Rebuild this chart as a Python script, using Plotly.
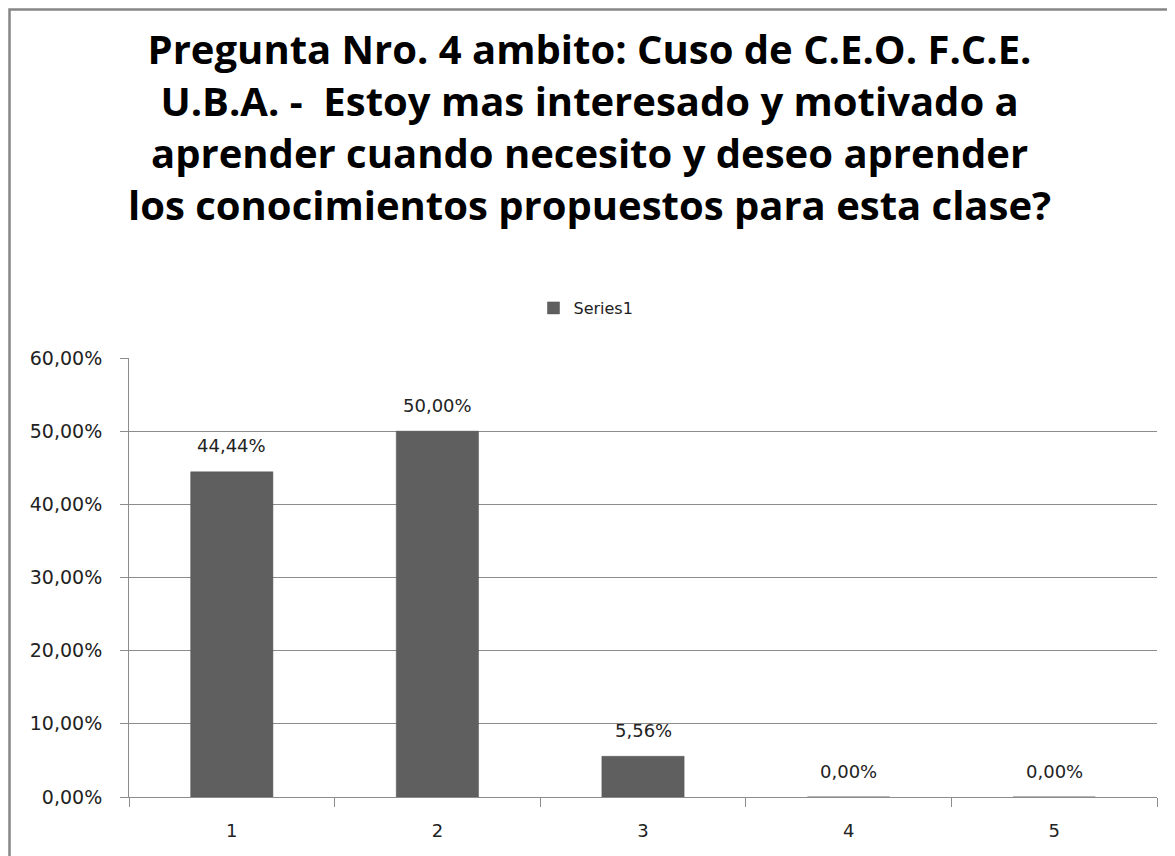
import plotly.graph_objects as go

categories = ["1", "2", "3", "4", "5"]
values = [0.4444, 0.5000, 0.0556, 0.0, 0.0]
series_name = "Series1"
title_lines = [
    "Pregunta Nro. 4 ambito: Cuso de C.E.O. F.C.E.",
    "U.B.A. -  Estoy mas interesado y motivado a",
    "aprender cuando necesito y deseo aprender",
    "los conocimientos propuestos para esta clase?",
]

OFF = 8  # page body margin
W, H = 1175 - OFF, 856 - OFF
L, R, T, B = 129 - OFF, 1157 - OFF, 358 - OFF, 797 - OFF
pw, ph = R - L, B - T

def px_x(x):
    return (x - OFF - L) / pw

def px_y(y):
    return (B - (y - OFF)) / ph

GRAY = "#8c8c8c"
BAR = "#5f5f5f"
FONT = "DejaVu Sans"
TXT = "#222222"

fig = go.Figure()
fig.add_trace(go.Bar(
    x=list(range(len(categories))), y=values, name=series_name,
    marker=dict(color=BAR, line=dict(color="#555555", width=0.5)),
    width=0.4, showlegend=True,
))

annotations = []
for i, v in enumerate(values):
    annotations.append(dict(
        x=i, y=v, xref="x", yref="y", text=f"{v*100:.2f}%".replace(".", ","),
        showarrow=False, yshift=26, font=dict(family=FONT, size=18, color=TXT),
    ))
annotations.append(dict(
    x=px_x(589), y=px_y(126), xref="paper", yref="paper",
    text="<b>" + "<br>".join(title_lines) + "</b>",
    showarrow=False, xanchor="center", yanchor="middle", align="center",
    font=dict(family="Open Sans", size=40, color="#000000"),
))

fig.update_layout(
    width=W, height=H,
    margin=dict(l=L, r=W - R, t=T, b=H - B),
    paper_bgcolor="white", plot_bgcolor="white",
    separators=",.",
    annotations=annotations,
    showlegend=True,
    legend=dict(
        x=px_x(586), y=px_y(308), xanchor="center", yanchor="middle",
        orientation="h", font=dict(family=FONT, size=16, color=TXT),
        bgcolor="rgba(0,0,0,0)", itemwidth=30,
    ),
    shapes=[dict(
        type="rect", xref="paper", yref="paper",
        x0=px_x(9.5), x1=px_x(1200), y0=px_y(900), y1=px_y(9.5),
        line=dict(color="#868686", width=2.5), fillcolor="rgba(0,0,0,0)", layer="below",
    )],
    xaxis=dict(
        showgrid=False, showline=True, linecolor=GRAY, linewidth=1,
        tickmode="array", tickvals=list(range(len(categories))), ticktext=categories,
        ticks="", tickfont=dict(family=FONT, size=18, color=TXT), ticklabelstandoff=17,
        range=[-0.5, len(categories) - 0.5], zeroline=False,
        minor=dict(tickmode="array", tickvals=[i - 0.5 for i in range(len(categories) + 1)],
                   ticks="outside", ticklen=9, tickcolor=GRAY, showgrid=False),
    ),
    yaxis=dict(
        range=[0, 0.6], dtick=0.1, tickformat=".2%", showgrid=True, gridcolor=GRAY,
        gridwidth=1, showline=True, linecolor=GRAY, linewidth=1, ticks="outside",
        ticklen=8, tickcolor=GRAY, zeroline=False,
        tickfont=dict(family=FONT, size=19, color=TXT), ticklabelstandoff=14,
    ),
)

fig.write_html("out.html")
